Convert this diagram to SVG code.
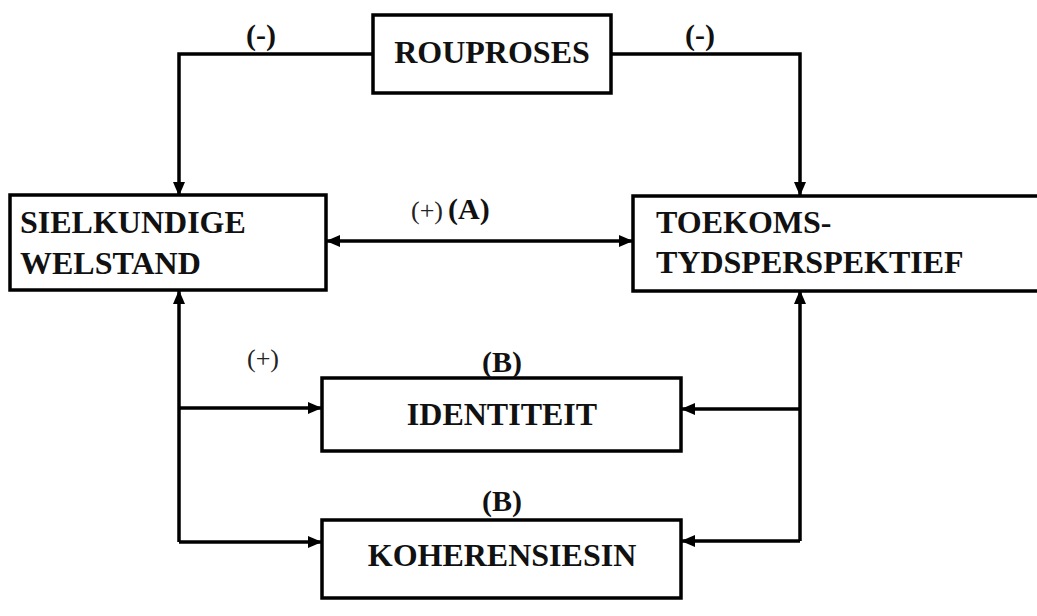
<svg xmlns="http://www.w3.org/2000/svg" width="1037" height="616" viewBox="0 0 1037 616">
  <style>
    .box { fill: #fff; stroke: #000; stroke-width: 3.5; }
    .lbl { font-family: "Liberation Serif", "Times New Roman", serif; font-weight: bold; font-size: 32px; fill: #111; }
    .note { font-family: "Liberation Serif", "Times New Roman", serif; font-size: 26px; fill: #222; }
    .noteb { font-family: "Liberation Serif", "Times New Roman", serif; font-weight: bold; font-size: 30px; fill: #111; }
    .wire { fill: none; stroke: #000; stroke-width: 3.5; }
  </style>
  <defs>
    <marker id="ah" viewBox="0 0 14 12" refX="13" refY="6" markerWidth="14" markerHeight="12" markerUnits="userSpaceOnUse" orient="auto-start-reverse">
      <path d="M0,0 L14,6 L0,12 z" fill="#000"/>
    </marker>
  </defs>
  <rect width="1037" height="616" fill="#fff"/>

  <g id="connectors">
    <!-- feedback from ROUPROSES to both sides -->
    <path class="wire" d="M373,54 H179 V195" marker-end="url(#ah)"/>
    <path class="wire" d="M611,54 H800 V195" marker-end="url(#ah)"/>
    <!-- (A) link between the two main blocks -->
    <path class="wire" d="M327,241 H632" marker-start="url(#ah)" marker-end="url(#ah)"/>
    <!-- left trunk -->
    <path class="wire" d="M179,542 V291" marker-end="url(#ah)"/>
    <path class="wire" d="M179,408 H321" marker-end="url(#ah)"/>
    <path class="wire" d="M179,542 H321" marker-end="url(#ah)"/>
    <!-- right trunk -->
    <path class="wire" d="M800,541 V291" marker-end="url(#ah)"/>
    <path class="wire" d="M800,409 H682" marker-end="url(#ah)"/>
    <path class="wire" d="M800,541 H682" marker-end="url(#ah)"/>
  </g>

  <g id="rouproses">
    <rect class="box" x="373" y="15" width="238" height="78"/>
    <text class="lbl" x="492" y="63" text-anchor="middle">ROUPROSES</text>
  </g>
  <g id="sielkundige-welstand">
    <rect class="box" x="10" y="195" width="316" height="95"/>
    <text class="lbl" x="20" y="233">SIELKUNDIGE</text>
    <text class="lbl" x="20" y="274">WELSTAND</text>
  </g>
  <g id="toekomstydsperspektief">
    <rect class="box" x="633" y="196" width="420" height="95"/>
    <text class="lbl" x="656" y="233">TOEKOMS-</text>
    <text class="lbl" x="656" y="273">TYDSPERSPEKTIEF</text>
  </g>
  <g id="identiteit">
    <rect class="box" x="322" y="378" width="359" height="73"/>
    <text class="lbl" x="502" y="425" text-anchor="middle">IDENTITEIT</text>
  </g>
  <g id="koherensiesin">
    <rect class="box" x="322" y="520" width="359" height="78"/>
    <text class="lbl" x="502" y="566" text-anchor="middle">KOHERENSIESIN</text>
  </g>

  <g id="labels">
    <text class="noteb" x="261" y="45" text-anchor="middle">(-)</text>
    <text class="noteb" x="700" y="45" text-anchor="middle">(-)</text>
    <text class="note" x="411" y="219">(+)</text>
    <text class="noteb" x="448" y="219">(A)</text>
    <text class="note" x="247" y="367">(+)</text>
    <text class="noteb" x="502" y="372" text-anchor="middle">(B)</text>
    <text class="noteb" x="502" y="511" text-anchor="middle">(B)</text>
  </g>
</svg>
